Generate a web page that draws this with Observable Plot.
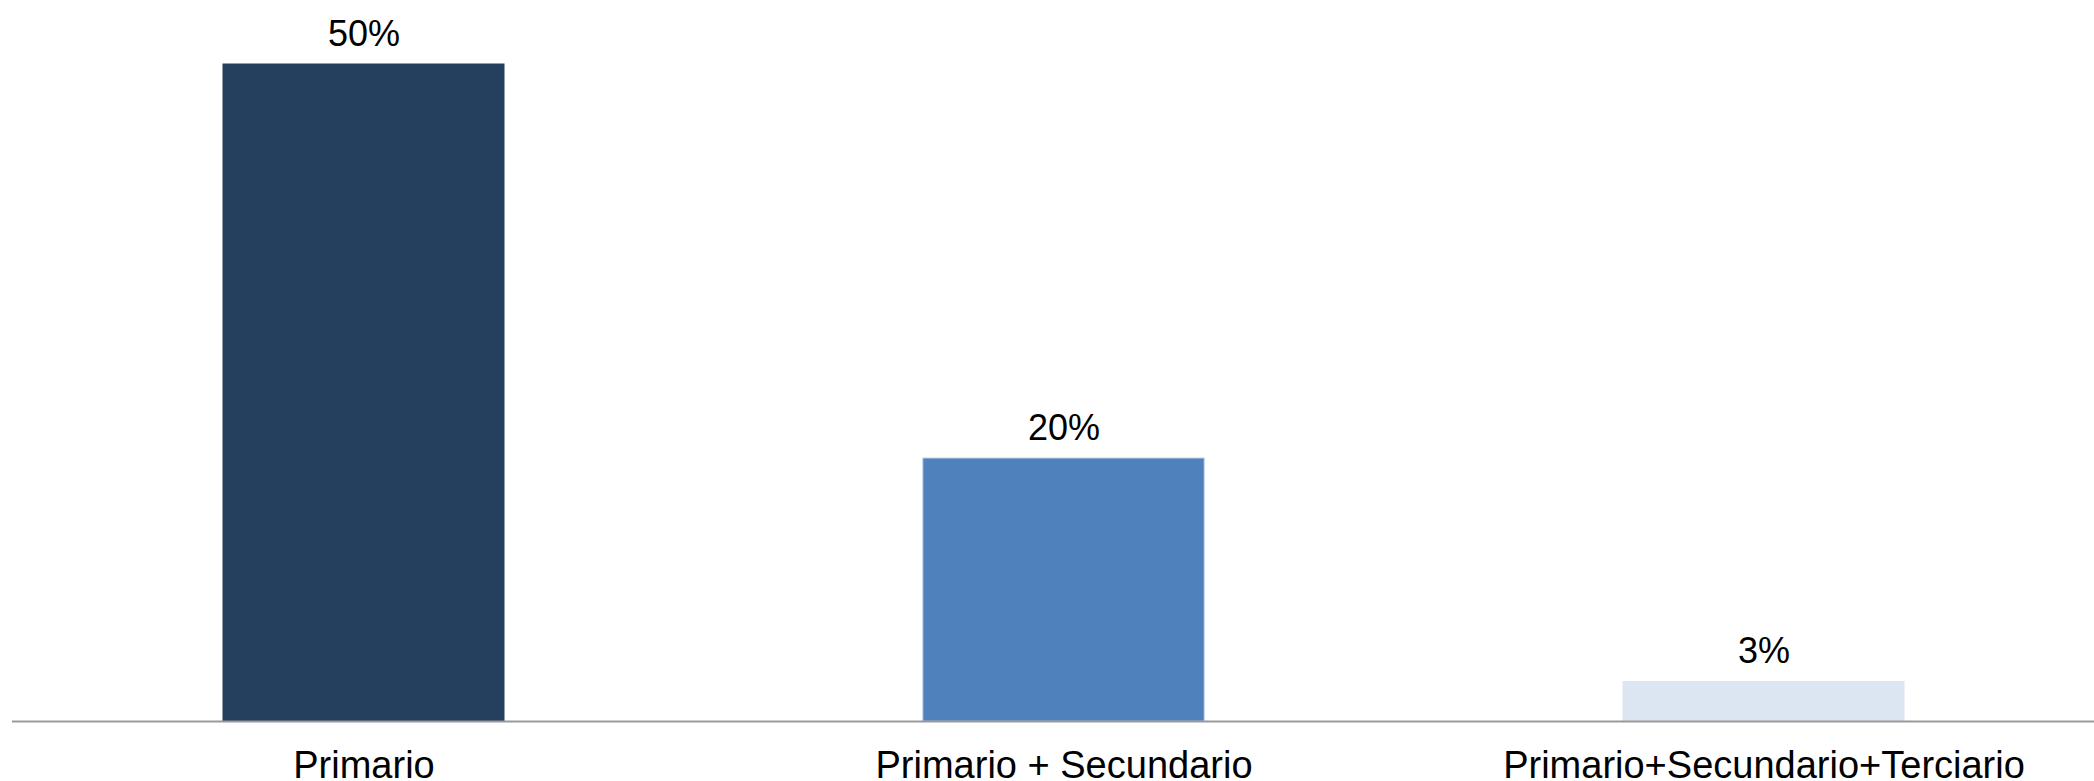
<!DOCTYPE html>
<html>
<head>
<meta charset="utf-8">
<script src="https://cdn.jsdelivr.net/npm/d3@7"></script>
<script src="https://cdn.jsdelivr.net/npm/@observablehq/plot@0.6"></script>
<style>
  html, body { margin: 0; padding: 0; background: #fff; }
  svg { font-family: "Liberation Sans", Arial, sans-serif; display: block; overflow: visible; }
</style>
</head>
<body>
<div id="chart"></div>
<script>
const categories = ["Primario", "Primario + Secundario", "Primario+Secundario+Terciario"];
const values = [50, 20, 3];
const valueLabels = ["50%", "20%", "3%"];

const barColors = ["#253F5F", "#4F81BD", "#DCE6F2"];
const barStrokes = ["#253F5F", "#95B3D7", "#DCE6F2"];

const data = categories.map((c, i) => ({cat: c, value: values[i], label: valueLabels[i]}));

const chart = Plot.plot({
  width: 2094,
  height: 781,
  marginLeft: 12,
  marginRight: 0,
  marginTop: 64,
  marginBottom: 60,
  style: {fontFamily: "'Liberation Sans', Arial, sans-serif", color: "#000", background: "#fff"},
  x: {domain: categories, paddingInner: 0.599, paddingOuter: 0.285, align: 0.5264, label: null},
  y: {domain: [0, 50], axis: null},
  color: {domain: categories, range: barColors},
  marks: [
    Plot.barY(data, {x: "cat", y: "value", fill: "cat", stroke: d => barStrokes[categories.indexOf(d.cat)], strokeWidth: 1, inset: 0}),
    Plot.ruleY([0], {stroke: "#999", strokeWidth: 2}),
    Plot.text(data, {x: "cat", y: "value", text: "label", lineAnchor: "bottom", dy: -19, fontSize: 36, fill: "#000"}),
    Plot.axisX({tickSize: 0, tickPadding: 30, fontSize: 38, label: null, fill: "#000"})
  ]
});
document.getElementById("chart").appendChild(chart);
</script>
</body>
</html>
